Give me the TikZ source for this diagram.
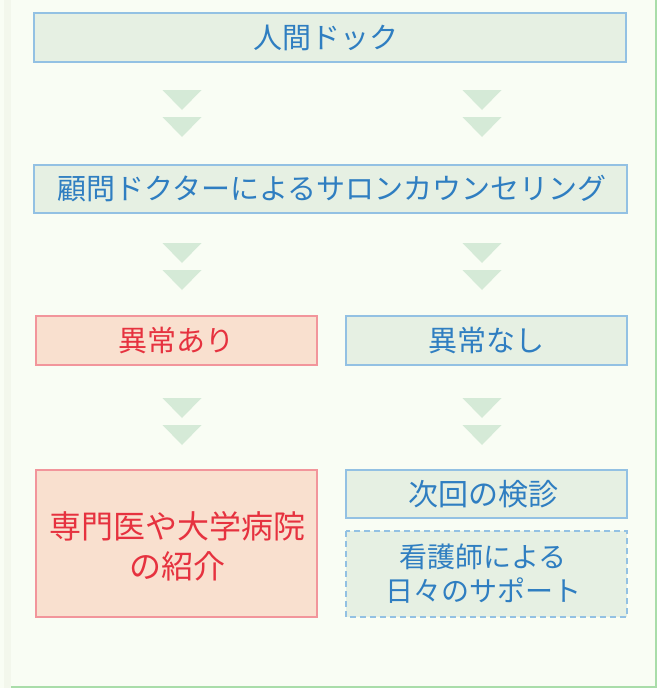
\documentclass[tikz,border=0pt]{standalone}
\usepackage{fontspec}
\newfontfamily\jp{Noto Sans CJK JP}
\definecolor{bgc}{HTML}{F9FDF4}
\definecolor{stripc}{HTML}{F3F7EC}
\definecolor{edgec}{HTML}{A9DDA9}
\definecolor{bfill}{HTML}{E6F0E3}
\definecolor{bdraw}{HTML}{93C1E3}
\definecolor{btext}{HTML}{2F7EC1}
\definecolor{rfill}{HTML}{F9E0CF}
\definecolor{rdraw}{HTML}{F2959B}
\definecolor{rtext}{HTML}{E6323F}
\definecolor{tric}{HTML}{D5EAD7}
\tikzset{
  bluebox/.style={draw=bdraw, fill=bfill, line width=1.6pt},
  redbox/.style={draw=rdraw, fill=rfill, line width=1.6pt},
  btxt/.style={text=btext, font=\jp\fontsize{29}{34}\selectfont, align=center},
  rtxt/.style={text=rtext, font=\jp\fontsize{29}{34}\selectfont, align=center},
  tri/.style={fill=tric}
}
\newcommand{\dtri}[2]{%
  \fill[tri] (#1-19.5,#2) -- (#1+19.5,#2) -- (#1,#2+20) -- cycle;
  \fill[tri] (#1-19.5,#2+27) -- (#1+19.5,#2+27) -- (#1,#2+47) -- cycle;}
\begin{document}
\begin{tikzpicture}[x=1pt,y=-1pt]
\fill[bgc] (0,0) rectangle (657,688);
\fill[stripc] (4,0) rectangle (11,688);
\fill[edgec] (655,0) rectangle (657,688);
\fill[edgec] (11,686) rectangle (657,688);
% boxes
\draw[bluebox] (34,13) rectangle (626,62);
\node[btxt] (n1) at (326,38) {人間ドック};
\draw[bluebox] (34,165) rectangle (627,213);
\node[btxt] (n2) at (332,189) {顧問ドクターによるサロンカウンセリング};
\draw[redbox] (36,316) rectangle (317,365);
\node[rtxt] (n3) at (176.5,340) {異常あり};
\draw[bluebox] (346,316) rectangle (627,365);
\node[btxt] (n4) at (486.5,340) {異常なし};
\draw[redbox] (36,470) rectangle (317,617);
\node[rtxt, font=\jp\fontsize{32}{40}\selectfont] (n5) at (177,546) {専門医や大学病院\\の紹介};
\draw[bluebox] (346,470) rectangle (627,518);
\node[btxt, font=\jp\fontsize{30}{34}\selectfont] (n6) at (483,494) {次回の検診};
\draw[bluebox, dash pattern=on 6pt off 4pt] (346,531) rectangle (627,617);
\node[btxt, font=\jp\fontsize{28}{34}\selectfont] (n7) at (483,574) {看護師による\\日々のサポート};
% triangles
\dtri{182}{90}
\dtri{482}{90}
\dtri{182}{243}
\dtri{482}{243}
\dtri{182}{398}
\dtri{482}{398}
\end{tikzpicture}
\end{document}
